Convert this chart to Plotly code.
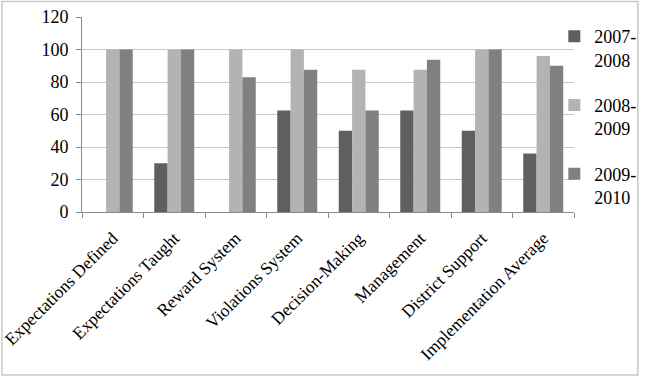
import plotly.graph_objects as go

categories = ["Expectations Defined", "Expectations Taught", "Reward System", "Violations System",
              "Decision-Making", "Management", "District Support", "Implementation Average"]
series_names = ["2007-<br>2008", "2008-<br>2009", "2009-<br>2010"]
y2007 = [0, 30, 0, 62.5, 50, 62.5, 50, 36]
y2008 = [100, 100, 100, 100, 87.5, 87.5, 100, 96]
y2009 = [100, 100, 83, 87.5, 62.5, 93.75, 100, 90]
colors = ["#5f5f5f", "#b3b3b3", "#808080"]

fig = go.Figure()
for i, (name, vals) in enumerate(zip(series_names, [y2007, y2008, y2009])):
    fig.add_trace(go.Bar(x=categories, y=vals, name=name, marker_color=colors[i],
                         marker_line_width=0, legendgroup=str(i)))

fig.update_layout(
    width=653, height=377,
    margin=dict(l=82, r=70, t=17, b=165),
    paper_bgcolor="white", plot_bgcolor="white",
    font=dict(family="Liberation Serif", size=18, color="black"),
    barmode="group", bargap=0.35, bargroupgap=0,
    showlegend=True,
    legend=dict(x=0.96, y=0.995, xanchor="left", yanchor="top", tracegroupgap=19,
                font=dict(size=18), itemwidth=30, valign="top", bgcolor="rgba(0,0,0,0)",
                maxheight=360),
    shapes=[dict(type="rect", xref="paper", yref="paper", x0=-0.1627, x1=1.1297, y0=-0.836, y1=1.0795,
                 line=dict(color="#c8c8c8", width=1.5))],
)
fig.update_xaxes(tickangle=-45, showline=True, linecolor="#8a8a8a", ticks="outside",
                 tickson="boundaries", ticklen=5, tickcolor="#8a8a8a", showgrid=False,
                 tickfont=dict(size=17.5), automargin=False, ticklabelstandoff=8)
fig.update_yaxes(range=[0, 120], dtick=20, showline=True, linecolor="#8a8a8a", ticks="outside",
                 ticklen=5, tickcolor="#8a8a8a", gridcolor="#c8c8c8", gridwidth=1,
                 tickfont=dict(size=18), zeroline=False, ticklabelstandoff=4, automargin=False)

fig.write_html("out.html")
